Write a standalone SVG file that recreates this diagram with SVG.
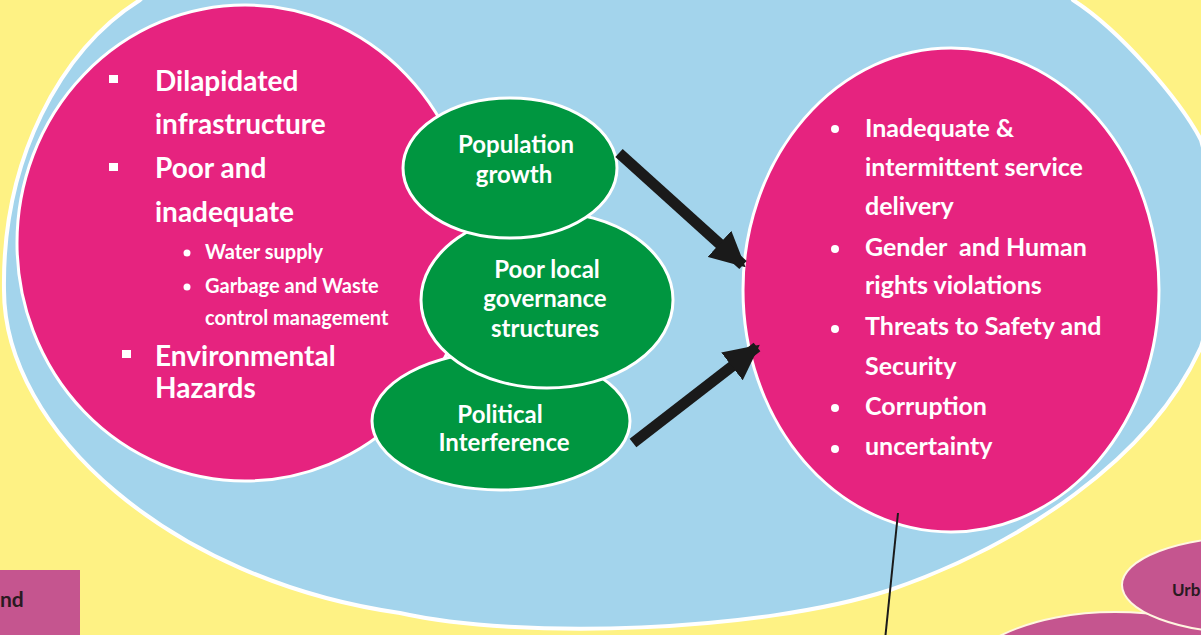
<svg xmlns="http://www.w3.org/2000/svg" width="1201" height="635" viewBox="0 0 1201 635">
<style>
.bg{fill:#FEF284}
.blue{fill:#A3D4EC;stroke:#FFFFFF;stroke-width:4}
.pink{fill:#E6237F;stroke:#FFFFFF;stroke-width:3}
.green{fill:#009640;stroke:#FFFFFF;stroke-width:3}
.purple{fill:#C5558F;stroke:#FFF6E0;stroke-width:2}
.t{font-family:Lato,"Open Sans","Liberation Sans",sans-serif;font-weight:bold;fill:#FFFFFF}
.big{font-size:28px}
.sm{font-size:20px}
.g{font-size:24px;text-anchor:middle}
.r{font-size:25px}
.dark{font-family:Lato,"Open Sans","Liberation Sans",sans-serif;font-weight:bold;fill:#2A1A22}
.wb{fill:#FFFFFF}
.conn{stroke:#1A1A1A;fill:none}
</style>
<defs>
<marker id="ah" viewBox="0 0 10 10" refX="9" refY="5" markerWidth="3.2" markerHeight="3.2" orient="auto" markerUnits="strokeWidth">
<path d="M0,0 L10,5 L0,10 Z" fill="#1A1A1A"/>
</marker>
</defs>
<rect class="bg" x="0" y="0" width="1201" height="635"/>
<g id="legend-rect">
<rect x="-2" y="570" width="82" height="70" fill="#C5558F"/>
<text class="dark" x="0" y="607" font-size="21">nd</text>
</g>
<g id="urban-bottom">
<ellipse class="purple" cx="1115" cy="690" rx="160" ry="78"/>
</g>
<g id="urban">
<ellipse class="purple" cx="1250" cy="585" rx="128" ry="48"/>
<text class="dark" x="1172" y="596" font-size="17">Urb</text>
</g>
<g id="context">
<path class="blue" d="M160 -20 L140 0 C60 50 2 160 4 290 C4 430 170 580 400 613 C520 640 760 632 890 590 C1020 545 1150 460 1201 347 L1230 250 L1201 140 C1180 100 1120 30 1073 0 L1060 -20 Z"/>
</g>
<g id="problems">
<ellipse class="pink" cx="245" cy="243" rx="228" ry="238"/>
<rect class="wb" x="109" y="75" width="9" height="8"/>
<text class="t big" x="155" y="91">Dilapidated</text>
<text class="t big" x="155" y="134">infrastructure</text>
<rect class="wb" x="109" y="163" width="9" height="8"/>
<text class="t big" x="155" y="178">Poor and</text>
<text class="t big" x="155" y="222">inadequate</text>
<circle class="wb" cx="187" cy="253" r="3.5"/>
<text class="t sm" x="205" y="259">Water supply</text>
<circle class="wb" cx="187" cy="287" r="3.5"/>
<text class="t sm" x="205" y="293">Garbage and Waste</text>
<text class="t sm" x="205" y="325">control management</text>
<rect class="wb" x="122" y="350" width="9" height="8"/>
<text class="t big" x="155" y="366">Environmental</text>
<text class="t big" x="155" y="398">Hazards</text>
</g>
<g id="political">
<ellipse class="green" cx="501" cy="421" rx="129" ry="69"/>
<text class="t g" x="500" y="423">Political</text>
<text class="t g" x="504" y="451">Interference</text>
</g>
<g id="governance">
<ellipse class="green" cx="547" cy="300" rx="126" ry="88"/>
<text class="t g" x="547" y="278">Poor local</text>
<text class="t g" x="545" y="307">governance</text>
<text class="t g" x="545" y="337">structures</text>
</g>
<g id="population">
<ellipse class="green" cx="510" cy="168" rx="107" ry="70"/>
<text class="t g" x="516" y="153">Population</text>
<text class="t g" x="514" y="183">growth</text>
</g>
<g id="effects">
<ellipse class="pink" cx="951" cy="290" rx="208" ry="242"/>
<circle class="wb" cx="835" cy="129" r="4"/>
<text class="t r" x="865" y="137">Inadequate &amp;</text>
<text class="t r" x="865" y="176">intermittent service</text>
<text class="t r" x="865" y="215">delivery</text>
<circle class="wb" cx="835" cy="249" r="4"/>
<text class="t r" x="865" y="256" xml:space="preserve">Gender  and Human</text>
<text class="t r" x="865" y="294">rights violations</text>
<circle class="wb" cx="835" cy="329" r="4"/>
<text class="t r" x="865" y="335">Threats to Safety and</text>
<text class="t r" x="865" y="375">Security</text>
<circle class="wb" cx="835" cy="408" r="4"/>
<text class="t r" x="865" y="415">Corruption</text>
<circle class="wb" cx="835" cy="449" r="4"/>
<text class="t r" x="865" y="455">uncertainty</text>
</g>
<g id="connectors">
<line class="conn" x1="619" y1="153" x2="743" y2="265" stroke-width="11" marker-end="url(#ah)"/>
<line class="conn" x1="633" y1="443" x2="757" y2="347" stroke-width="11" marker-end="url(#ah)"/>
<line class="conn" x1="898" y1="513" x2="885" y2="640" stroke-width="2"/>
</g>
</svg>
